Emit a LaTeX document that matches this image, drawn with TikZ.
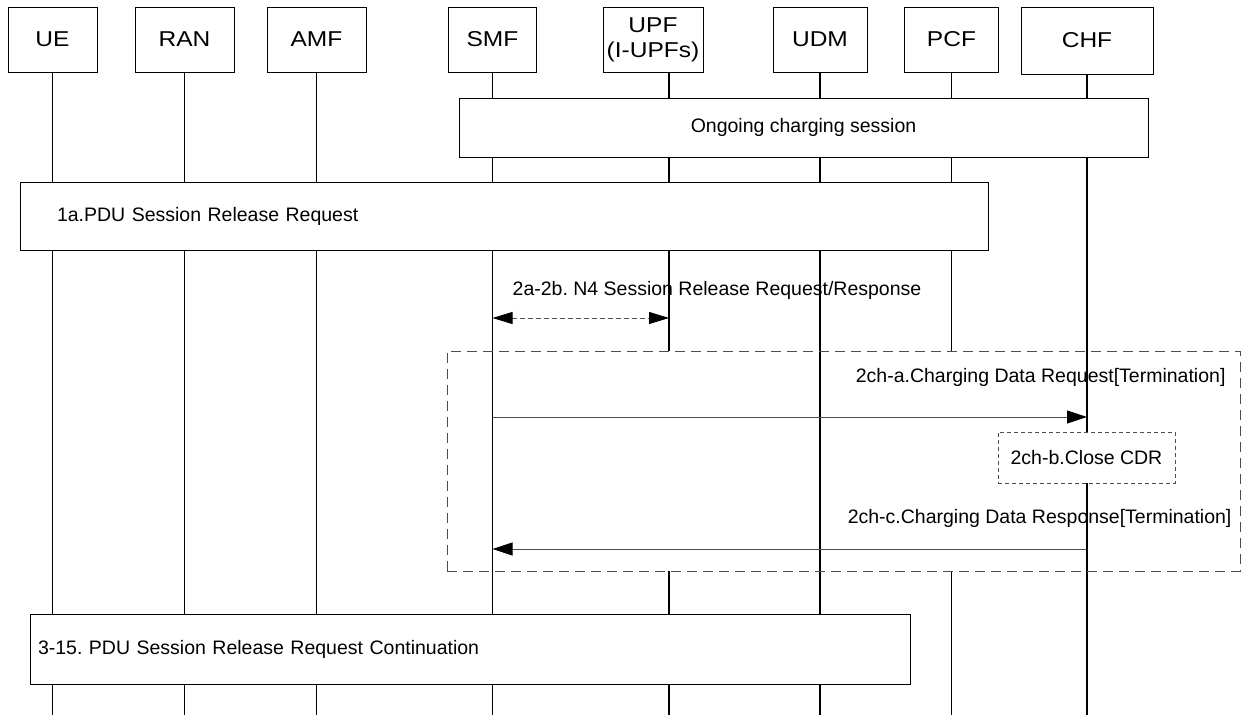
\documentclass[tikz,border=0pt]{standalone}
\usepackage{fontspec}
\setmainfont{Liberation Sans}
\newfontfamily\headfont[FakeStretch=1.14]{Liberation Sans}
\usetikzlibrary{arrows.meta}
\pgfdeclarelayer{lines}
\pgfsetlayers{lines,main}
\frenchspacing
\newcommand{\msgfont}{\fontsize{19.5}{22}\selectfont}
\newcommand{\entfont}{\headfont\fontsize{21.5}{25}\selectfont}
\tikzset{
  entity/.style={draw,line width=0.8pt,fill=white,minimum height=65pt,inner sep=0pt,align=center,font=\entfont},
  lifeline/.style={line width=1.6pt},
  msgbox/.style={draw,line width=0.8pt,fill=white,inner sep=0pt,font=\msgfont},
  msg/.style={draw=black!70,line width=0.9pt,-{Triangle[length=20pt,width=13pt,color=black]}},
  proc/.style={draw=black!70,line width=0.9pt,dash pattern=on 10pt off 6pt},
}

\begin{document}
\begin{tikzpicture}[x=1pt,y=-1pt]
  \useasboundingbox (0,0) rectangle (1243,715);
  \coordinate (bottom) at (0,715);

  % Network functions
  \node[entity,minimum width=89pt] (UE) at (52.5,39.5) {UE};
  \node[entity,minimum width=99pt] (RAN) at (184.5,39.5) {RAN};
  \node[entity,minimum width=99pt] (AMF) at (316.5,39.5) {AMF};
  \node[entity,minimum width=88pt] (SMF) at (492.5,39.5) {SMF};
  \node[entity,minimum width=100pt] (UPF) at (653,39.5) {UPF\\(I-UPFs)};
  \node[entity,minimum width=94pt] (UDM) at (820,39.5) {UDM};
  \node[entity,minimum width=94pt] (PCF) at (951.5,39.5) {PCF};
  \node[entity,minimum width=132pt,minimum height=67pt] (CHF) at (1087,40.5) {CHF};
  \coordinate (upf) at ([xshift=16pt]UPF.south);

  % Procedure boxes
  \node[msgbox,minimum width=689pt,minimum height=59pt] (ongoing) at (803.5,127.5) {Ongoing charging session};
  \node[msgbox,minimum height=68pt,text width=894pt,inner xsep=37pt,align=left] (release) at (504,216) {1a.PDU Session Release Request};
  \node[msgbox,minimum height=70pt,text width=864pt,inner xsep=8pt,align=left] (cont) at (470,649) {3-15. PDU Session Release Request Continuation};

  % N4 session release
  \coordinate (n4) at (0,318);
  \node[font=\msgfont] (n4label) at (717,290) {2a-2b. N4 Session Release Request/Response};
  \draw[draw=black!70,line width=0.9pt,dash pattern=on 5pt off 3pt,
    {Triangle[length=20pt,width=12pt,color=black]}-{Triangle[length=20pt,width=12pt,color=black]}]
    (SMF.south |- n4) -- (upf |- n4);

  % Charging
  \node[proc,minimum width=793pt,minimum height=220pt] (charging) at (843.5,461) {};
  \coordinate (cdrq) at (0,417);
  \coordinate (cdrs) at (0,549);
  \node[font=\msgfont,anchor=east] (cdrqlabel) at (1229,377) {2ch-a.Charging Data Request[Termination]};
  \node[font=\msgfont,anchor=east] (cdrslabel) at (1235,518) {2ch-c.Charging Data Response[Termination]};
  \draw[msg] (SMF.south |- cdrq) -- (CHF.south |- cdrq);
  \node[draw=black!70,line width=0.9pt,dash pattern=on 4pt off 3pt,fill=white,inner sep=0pt,
    minimum width=177pt,minimum height=51pt,font=\msgfont] (closecdr) at (1086.5,457.5) {2ch-b.Close CDR};
  \draw[msg] (CHF.south |- cdrs) -- (SMF.south |- cdrs);

  % Lifelines
  \begin{pgfonlayer}{lines}
    \draw[lifeline] (UE.south) -- (UE.south |- bottom);
    \draw[lifeline] ([yshift=11pt]RAN.south) -- (RAN.south |- bottom);
    \draw[lifeline] (AMF.south) -- (AMF.south |- bottom);
    \draw[lifeline] (SMF.south) -- (SMF.south |- bottom);
    \draw[lifeline] (upf) -- (upf |- charging.north)
                    (upf |- charging.south) -- (upf |- bottom);
    \draw[lifeline] (UDM.south) -- (UDM.south |- bottom);
    \draw[lifeline] (PCF.south) -- (PCF.south |- charging.north)
                    (PCF.south |- charging.south) -- (PCF.south |- bottom);
    \draw[lifeline] ([yshift=5pt]CHF.south) -- (CHF.south |- bottom);
  \end{pgfonlayer}
\end{tikzpicture}
\end{document}
